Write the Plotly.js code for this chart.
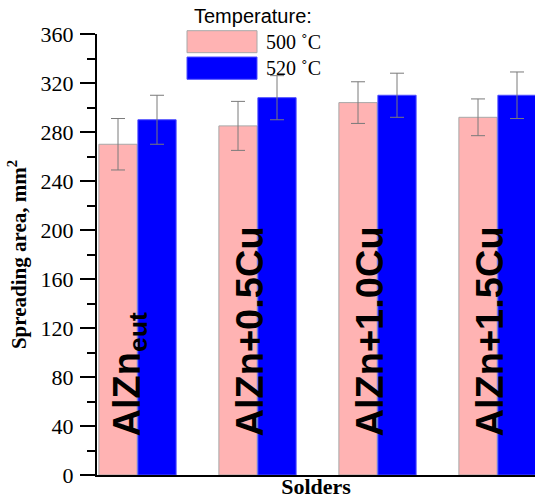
<!DOCTYPE html>
<html>
<head>
<meta charset="utf-8">
<script src="https://cdn.plot.ly/plotly-3.0.1.min.js"></script>
<style>
  html, body { margin: 0; padding: 0; background: #fff; }
  #chart { width: 535px; height: 500px; }
</style>
</head>
<body>
<div id="chart"></div>
<script>
// Solder alloys and their in-bar labels
const solders = ['AlZn_eut', 'AlZn+0.5Cu', 'AlZn+1.0Cu', 'AlZn+1.5Cu'];
const solderLabels = ['AlZn<sub>eut</sub>', 'AlZn+0.5Cu', 'AlZn+1.0Cu', 'AlZn+1.5Cu'];

// Spreading area (mm²) and its spread at each brazing temperature
const temps = ['500 ˚C', '520 ˚C'];
const area500 = [270, 285, 304, 292];
const err500 = [21, 20, 17, 15];
const area520 = [290, 308, 310, 310];
const err520 = [20, 18, 18, 19];

const yTicks = [0, 40, 80, 120, 160, 200, 240, 280, 320, 360];

const pink = '#ffb3b3';
const blue = '#0000ff';
const serif = 'Liberation Serif, Times New Roman, serif';
const sans = 'Liberation Sans, Arial, sans-serif';

const errStyle = { type: 'data', visible: true, color: '#7a7a7a', thickness: 1, width: 7 };

const traces = [
  {
    type: 'bar', name: temps[0], x: solders, y: area500,
    marker: { color: pink, line: { color: '#a8a8a8', width: 1 } },
    error_y: Object.assign({ array: err500 }, errStyle)
  },
  {
    type: 'bar', name: temps[1], x: solders, y: area520,
    marker: { color: blue, line: { color: '#4d4dff', width: 1 } },
    error_y: Object.assign({ array: err520 }, errStyle)
  }
];

// Alloy names written vertically inside each group
const annotations = solders.map((s, i) => ({
  x: s, y: 0, xref: 'x', yref: 'y',
  text: solderLabels[i], showarrow: false, textangle: -90,
  xanchor: 'center', yanchor: 'bottom', yshift: 36, xshift: -8,
  font: { family: sans, size: 38, color: '#000', weight: 'bold' }
}));

// Legend block: title, swatches and temperature labels
annotations.push({
  xref: 'paper', yref: 'paper', x: 0.216, y: 1.041, xanchor: 'left', yanchor: 'middle',
  text: 'Temperature:', showarrow: false, font: { family: sans, size: 20, color: '#000' }
});
annotations.push({
  xref: 'paper', yref: 'paper', x: 0.381, y: 0.982, xanchor: 'left', yanchor: 'middle',
  text: temps[0], showarrow: false, font: { family: serif, size: 20, color: '#000' }
});
annotations.push({
  xref: 'paper', yref: 'paper', x: 0.381, y: 0.923, xanchor: 'left', yanchor: 'middle',
  text: temps[1], showarrow: false, font: { family: serif, size: 20, color: '#000' }
});

const shapes = [
  { type: 'rect', xref: 'paper', yref: 'paper', x0: 0.2055, x1: 0.3653, y0: 0.9576, y1: 1.0075,
    fillcolor: pink, line: { color: '#a8a8a8', width: 1 } },
  { type: 'rect', xref: 'paper', yref: 'paper', x0: 0.2055, x1: 0.3653, y0: 0.8973, y1: 0.9478,
    fillcolor: blue, line: { color: '#4d4dff', width: 1 } }
];

const layout = {
  width: 535, height: 500,
  margin: { l: 97, r: 0, t: 34, b: 25, pad: 0 },
  paper_bgcolor: '#fff', plot_bgcolor: '#fff',
  showlegend: false,
  barmode: 'group', bargap: 0.35, bargroupgap: 0.02,
  xaxis: {
    type: 'category', range: [-0.3375, 3.3125],
    showticklabels: false, ticks: '', showgrid: false, zeroline: false,
    showline: true, linecolor: '#000', linewidth: 2,
    title: { text: 'Solders', font: { family: serif, size: 22, color: '#000', weight: 'bold' }, standoff: 3 }
  },
  yaxis: {
    range: [0, 360], tickvals: yTicks, ticktext: yTicks.map(String),
    ticks: 'outside', ticklen: 15, tickwidth: 2, tickcolor: '#000',
    minor: { dtick: 20, ticks: 'outside', ticklen: 8, tickwidth: 2, tickcolor: '#000' },
    showgrid: false, zeroline: false,
    showline: true, linecolor: '#000', linewidth: 2,
    tickfont: { family: serif, size: 22, color: '#000' },
    ticklabelstandoff: 2,
    title: { text: 'Spreading area, mm<sup>2</sup>', font: { family: serif, size: 21, color: '#000', weight: 'bold' }, standoff: 8 }
  },
  annotations: annotations,
  shapes: shapes
};

Plotly.newPlot('chart', traces, layout, { displayModeBar: false, staticPlot: true });
</script>
</body>
</html>
